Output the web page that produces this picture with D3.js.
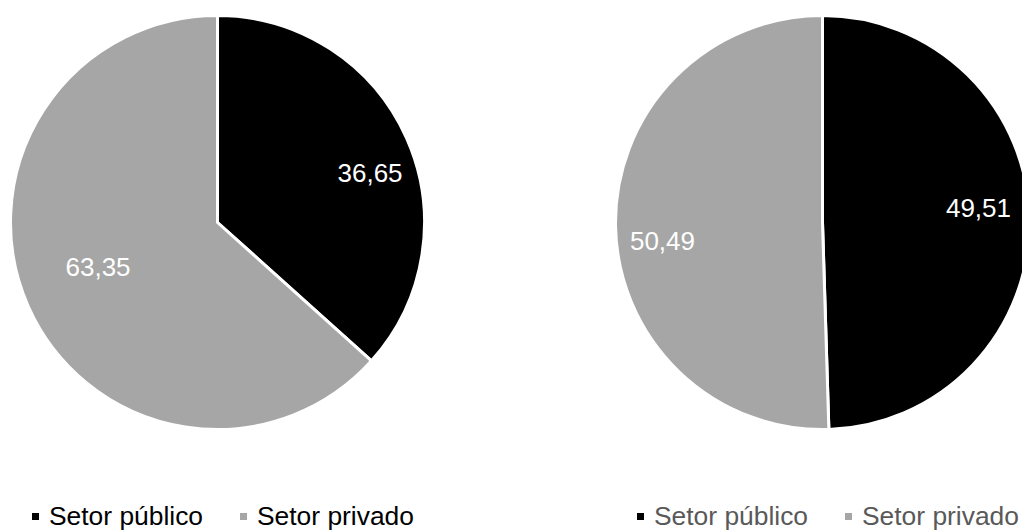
<!DOCTYPE html>
<html>
<head>
<meta charset="utf-8">
<script src="https://cdn.jsdelivr.net/npm/d3@7"></script>
<style>
  html, body { margin: 0; padding: 0; background: #fff; }
  svg { display: block; font-family: "Liberation Sans", Arial, sans-serif; }
</style>
</head>
<body>
<svg id="chart" width="1022" height="531"></svg>
<script>
// Shares of public vs private sector (%) for two panels
const categories = ["Setor público", "Setor privado"];
const leftValues = [36.65, 63.35];
const rightValues = [49.51, 50.49];
const labelsLeft = ["36,65", "63,35"];
const labelsRight = ["49,51", "50,49"];

// Label placement inside each slice: [radius fraction, angle shift in degrees]
const labelPlaceLeft = [[0.775, 6.0], [0.615, 3.8]];
const labelPlaceRight = [[0.757, -4.6], [0.778, -5.6]];

const colors = ["#000000", "#a6a6a6"];
const labelColor = "#ffffff";

const svg = d3.select("#chart");
const radius = 207;

const color = d3.scaleOrdinal().domain(categories).range(colors);

const pie = d3.pie().sort(null).value(d => d.value);
const arc = d3.arc().innerRadius(0).outerRadius(radius);

function labelPos(d, place) {
  const a = (d.startAngle + d.endAngle) / 2 + place[1] * Math.PI / 180;
  const r = radius * place[0];
  return [r * Math.sin(a), -r * Math.cos(a)];
}

function drawPie(cx, cy, values, labels, places, legendX, legendTextColor) {
  const data = categories.map((c, i) => ({ cat: c, value: values[i], label: labels[i], place: places[i] }));
  const g = svg.append("g").attr("transform", `translate(${cx},${cy})`);
  const arcs = pie(data);

  g.selectAll("path.slice")
    .data(arcs)
    .join("path")
    .attr("class", "slice")
    .attr("d", arc)
    .attr("fill", d => color(d.data.cat))
    .attr("stroke", "#ffffff")
    .attr("stroke-width", 3)
    .attr("stroke-linejoin", "round");

  g.selectAll("text.val")
    .data(arcs)
    .join("text")
    .attr("class", "val")
    .attr("transform", d => `translate(${labelPos(d, d.data.place)})`)
    .attr("text-anchor", "middle")
    .attr("dy", "0.36em")
    .attr("fill", labelColor)
    .attr("font-size", 26)
    .text(d => d.data.label);

  // legend
  const leg = svg.append("g").attr("transform", `translate(${legendX},525)`);
  const items = leg.selectAll("g.item")
    .data(categories)
    .join("g")
    .attr("class", "item")
    .attr("transform", (d, i) => `translate(${i * 208},0)`);
  items.append("rect")
    .attr("x", 0).attr("y", -12)
    .attr("width", 7).attr("height", 7)
    .attr("fill", d => color(d));
  items.append("text")
    .attr("x", 17)
    .attr("fill", legendTextColor)
    .attr("font-size", 26.4)
    .text(d => d);
}

drawPie(217.5, 222.5, leftValues, labelsLeft, labelPlaceLeft, 32, "#000000");
drawPie(822.5, 222.5, rightValues, labelsRight, labelPlaceRight, 637, "#595959");
</script>
</body>
</html>
